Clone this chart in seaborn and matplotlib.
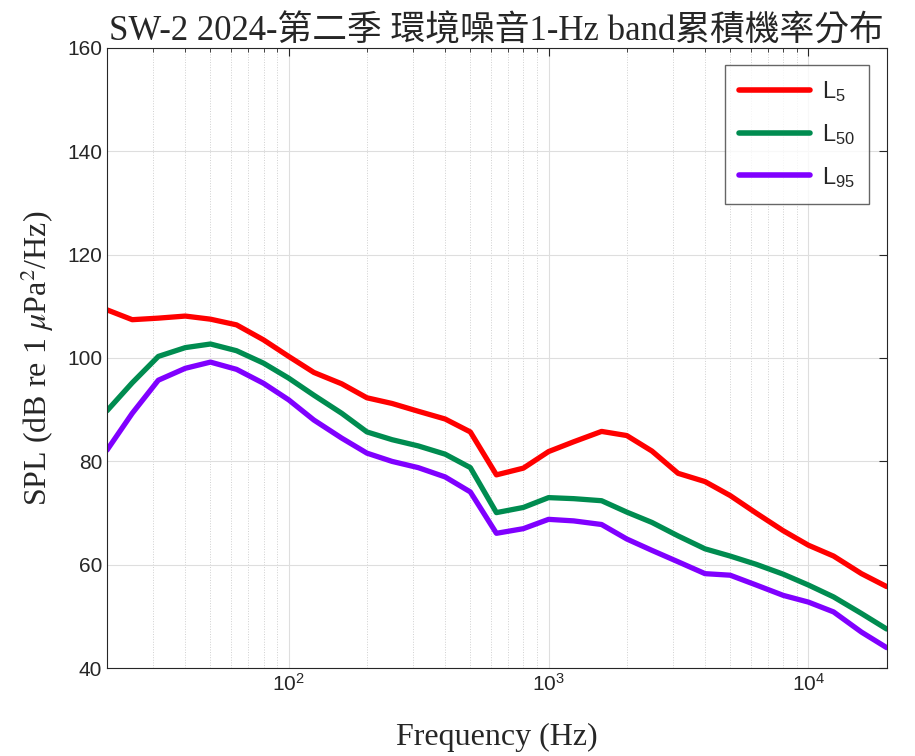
import numpy as np
import pandas as pd
import seaborn as sns
import matplotlib
matplotlib.use("Agg")
import matplotlib.pyplot as plt
from matplotlib.ticker import LogLocator

# 1/3 octave centre frequencies (Hz)
freqs = [20, 25, 31.5, 40, 50, 63, 80, 100, 125, 160, 200, 250, 315, 400, 500,
         630, 800, 1000, 1250, 1600, 2000, 2500, 3150, 4000, 5000, 6300, 8000,
         10000, 12500, 16000, 20000]

L5 = [109.3, 107.4, 107.7, 108.1, 107.5, 106.4, 103.5, 100.3, 97.2, 95.0, 92.3,
      91.2, 89.7, 88.2, 85.7, 77.4, 78.7, 81.9, 83.8, 85.8, 85.0, 82.0, 77.7,
      76.1, 73.4, 70.0, 66.6, 63.8, 61.7, 58.3, 55.8]
L50 = [89.8, 95.2, 100.3, 102.0, 102.7, 101.4, 99.0, 96.1, 92.8, 89.3, 85.7,
       84.2, 83.0, 81.4, 78.8, 70.1, 71.1, 73.0, 72.8, 72.4, 70.2, 68.2, 65.6,
       63.1, 61.7, 60.1, 58.2, 56.1, 53.8, 50.6, 47.6]
L95 = [82.2, 89.3, 95.7, 98.0, 99.2, 97.8, 95.1, 91.9, 88.0, 84.5, 81.6,
       80.0, 78.8, 77.0, 74.1, 66.1, 67.0, 68.8, 68.5, 67.8, 65.0, 62.8, 60.6,
       58.3, 58.0, 56.1, 54.1, 52.8, 50.9, 47.0, 44.0]

series_names = ["L$_{5}$", "L$_{50}$", "L$_{95}$"]
colors = ["#ff0000", "#008c50", "#8000ff"]

df = pd.DataFrame({
    "freq": freqs * 3,
    "spl": L5 + L50 + L95,
    "series": np.repeat(series_names, len(freqs)),
})

sns.set_style("white")
plt.rcParams["font.family"] = ["Liberation Sans", "DejaVu Sans"]
plt.rcParams["mathtext.fontset"] = "custom"
plt.rcParams["mathtext.rm"] = "Liberation Sans"
plt.rcParams["mathtext.it"] = "Liberation Sans:italic"
plt.rcParams["mathtext.bf"] = "Liberation Sans:bold"
plt.rcParams["xtick.direction"] = "in"
plt.rcParams["ytick.direction"] = "in"

fig = plt.figure(figsize=(9.15, 7.56), dpi=100)
ax = fig.add_axes([0.117, 0.116, 0.852, 0.821])

sns.lineplot(data=df, x="freq", y="spl", hue="series", palette=colors,
             linewidth=3.8, ax=ax, sort=False)

ax.set_xscale("log")
ax.set_xlim(20, 20000)
ax.set_ylim(40, 160)
ax.set_yticks(range(40, 161, 20))
ax.xaxis.set_minor_locator(LogLocator(base=10, subs=np.arange(2, 10)))
ax.tick_params(labelsize=15, colors="#262626", which="both", top=True, right=True)
ax.tick_params(which="major", length=6)
ax.tick_params(which="minor", length=3)

ax.grid(True, which="major", color="#dedede", linewidth=0.8)
ax.grid(True, which="minor", axis="x", color="#d0d0d0", linewidth=0.7, linestyle=":")
for sp in ax.spines.values():
    sp.set_color("#262626")
    sp.set_linewidth(0.8)

serif = ["Liberation Serif", "DejaVu Serif"]
ax.set_xlabel("Frequency (Hz)", fontsize=23, family=serif, color="#262626",
              labelpad=20)
ax.set_ylabel(r"SPL (dB re 1 $\mu$Pa$^2$/Hz)", fontsize=23, family=serif,
              math_fontfamily="stix", color="#262626", labelpad=8)
ax.set_title("SW-2 2024-第二季 環境噪音1-Hz band累積機率分布", fontsize=25,
             family=["Liberation Serif", "Noto Sans CJK TC"], pad=5)

leg = ax.legend(loc="upper right", fontsize=17, handlelength=3.0,
                frameon=True, fancybox=False, edgecolor="#404040",
                labelspacing=0.75, borderpad=0.6, borderaxespad=0.75,
                handletextpad=0.5)
leg.get_frame().set_linewidth(1.0)
for line in leg.get_lines():
    line.set_linewidth(4)

fig.savefig("out.png", dpi=100)
